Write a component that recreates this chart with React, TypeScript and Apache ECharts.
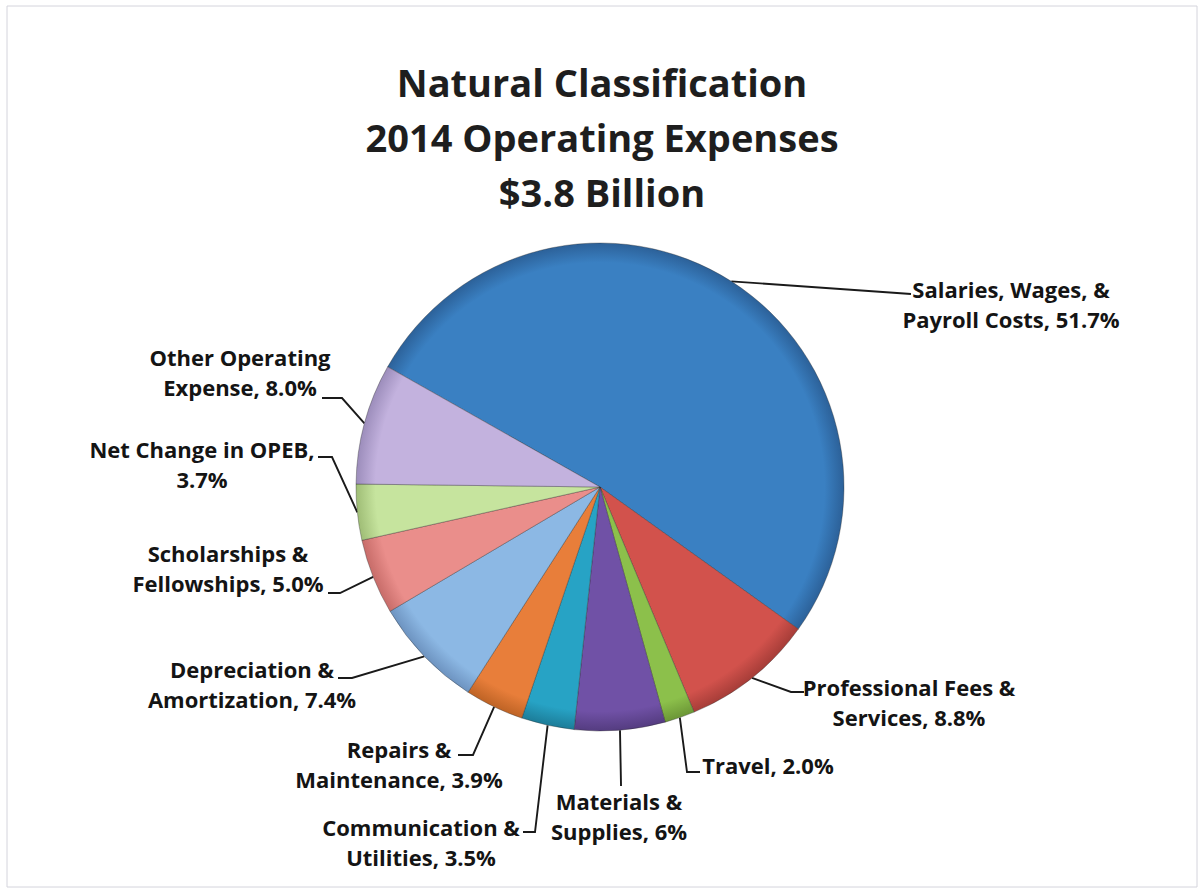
import React, { useEffect, useRef } from "react";
import * as echarts from "echarts";

// ---- data (clockwise from the top-left boundary) ----
const categories = [
  "Salaries, Wages, &\nPayroll Costs",
  "Professional Fees &\nServices",
  "Travel",
  "Materials &\nSupplies",
  "Communication &\nUtilities",
  "Repairs &\nMaintenance",
  "Depreciation &\nAmortization",
  "Scholarships &\nFellowships",
  "Net Change in OPEB,\n",
  "Other Operating\nExpense",
];
const values = [51.7, 8.8, 2.0, 6, 3.5, 3.9, 7.4, 5.0, 3.7, 8.0];
const valueLabels = ["51.7%", "8.8%", "2.0%", "6%", "3.5%", "3.9%", "7.4%", "5.0%", "3.7%", "8.0%"];
const titleLines = ["Natural Classification", "2014 Operating Expenses", "$3.8 Billion"];

// ---- styles ----
const colors = [
  "#3a80c2",
  "#d2524c",
  "#8cc04b",
  "#7051a6",
  "#27a3c5",
  "#e87e3a",
  "#8cb8e4",
  "#ea8e8b",
  "#c6e49e",
  "#c3b2de",
];
const darker = [
  "#2c6199",
  "#a63d38",
  "#6b9636",
  "#543c80",
  "#1c7c98",
  "#be6325",
  "#6d93c0",
  "#c76c69",
  "#9fbd76",
  "#9c8dbb",
];

// label placement: [centerX, centerY, bendX, bendY, endX, endY]
const labelPlace: number[][] = [
  [1011, 304, 897, 293, 911, 294],
  [909, 702, 791, 692, 804, 692],
  [768, 765, 687, 772, 700, 772],
  [619, 816, 621, 785, 621, 786],
  [421, 842, 535, 832, 523, 832],
  [399, 764, 473, 755, 458, 755],
  [252, 684, 352, 678, 338, 678],
  [228, 568, 340, 593, 328, 593],
  [202, 464, 332, 457, 318, 457],
  [240, 372, 342, 398, 322, 398],
];

const CX = 600;
const CY = 487;
const R = 244;
const FONT = "'Open Sans', sans-serif";

export default function App() {
  const ref = useRef<HTMLDivElement>(null);
  useEffect(() => {
    if (!ref.current) return;
    const chart = echarts.init(ref.current, null, { renderer: "svg" });
    const data = values.map((v, i) => ({
      name: categories[i],
      value: v,
      itemStyle: {
        color: {
          type: "radial",
          x: CX,
          y: CY,
          r: R,
          global: true,
          colorStops: [
            { offset: 0, color: colors[i] },
            { offset: 0.92, color: colors[i] },
            { offset: 1, color: darker[i] },
          ],
        },
      },
    }));
    chart.setOption({
      animation: false,
      backgroundColor: "#ffffff",
      title: {
        text: titleLines.join("\n"),
        left: "center",
        top: 49,
        textStyle: {
          fontFamily: FONT,
          fontWeight: "bold",
          fontSize: 38,
          lineHeight: 55,
          color: "#1e1e1e",
        },
      },
      graphic: [
        {
          type: "rect",
          shape: { x: 7, y: 6, width: 1190, height: 881 },
          style: { fill: "none", stroke: "#d4d4dc", lineWidth: 1 },
          silent: true,
        },
      ],
      series: [
        {
          type: "pie",
          center: [CX, CY],
          radius: R,
          startAngle: 150.5,
          clockwise: true,
          avoidLabelOverlap: false,
          emphasis: { disabled: true },
          itemStyle: { borderColor: "rgba(40,40,40,0.35)", borderWidth: 1 },
          label: {
            show: true,
            position: "outside",
            fontFamily: FONT,
            fontWeight: "bold",
            fontSize: 22,
            lineHeight: 30,
            color: "#141414",
            align: "center",
            formatter: (p: any) => {
              const i = p.dataIndex;
              const name = categories[i];
              if (name.endsWith("\n")) return name + valueLabels[i];
              return name + ", " + valueLabels[i];
            },
          },
          labelLine: {
            show: true,
            length: 20,
            length2: 15,
            lineStyle: { color: "#1a1a1a", width: 1.9 },
          },
          labelLayout: (params: any) => {
            const pl = labelPlace[params.dataIndex];
            const res: any = {
              x: pl[0],
              y: pl[1],
              align: "center",
              verticalAlign: "middle",
            };
            const pts = params.labelLinePoints;
            if (pts && pts[0]) {
              res.labelLinePoints = [
                [pts[0][0], pts[0][1]],
                [pl[2], pl[3]],
                [pl[4], pl[5]],
              ];
            }
            return res;
          },
          data,
        },
      ],
    });
    return () => chart.dispose();
  }, []);
  return (
    <div
      ref={ref}
      style={{ position: "absolute", left: 0, top: 0, width: 1204, height: 890 }}
    />
  );
}
